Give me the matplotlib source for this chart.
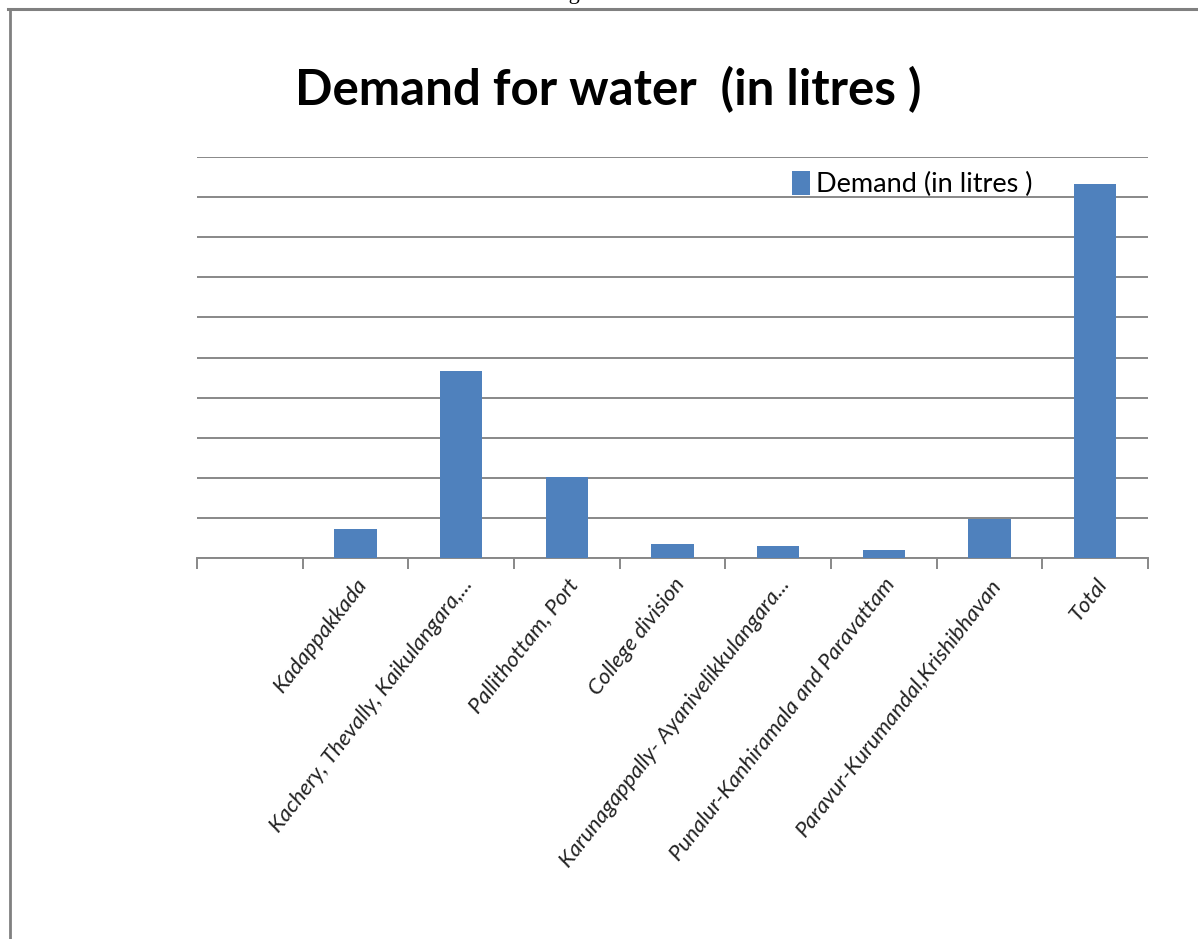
import matplotlib
matplotlib.use("Agg")
import matplotlib.pyplot as plt
from matplotlib.lines import Line2D
import numpy as np

# ---- data (grid units, 1 unit = one gridline step) ----
categories = ["", "Kadappakkada", "Kachery, Thevally, Kaikulangara,...",
              "Pallithottam, Port", "College division",
              "Karunagappally- Ayanivelikkulangara...",
              "Punalur-Kanhiramala and Paravattam",
              "Paravur-Kurumandal,Krishibhavan", "Total"]
demand = [0, 0.72, 4.66, 2.02, 0.35, 0.30, 0.20, 0.97, 9.33]
series_name = "Demand (in litres )"
title = "Demand for water  (in litres )"

W, H = 1198, 939
fig = plt.figure(figsize=(W / 100, H / 100), dpi=100)

# axes placed in pixel terms
left, right, bottom, top = 197, 1148, 558, 157
ax = fig.add_axes([left / W, 1 - bottom / H, (right - left) / W, (bottom - top) / H])

grey = "#888888"
blue = "#4F81BD"

x = np.arange(len(categories))
ax.bar(x, demand, width=0.4, color=blue, label=series_name, zorder=3)

ax.set_xlim(-0.5, len(categories) - 0.5)
ax.set_ylim(0, 10)
ax.set_yticks(np.arange(0, 11, 1))
ax.yaxis.grid(True, color=grey, linewidth=1.4, zorder=0)
ax.tick_params(axis="y", length=0, labelleft=False)

ax.set_xticks(x)
ax.set_xticklabels(categories, rotation=52, ha="right", rotation_mode="anchor",
                   fontsize=16, fontstyle="italic", family="Lato", color="#222222")
ax.tick_params(axis="x", which="major", length=0, pad=12)
ax.set_xticks(np.arange(-0.5, len(categories), 1), minor=True)
ax.tick_params(axis="x", which="minor", length=8, width=1.4, color=grey, direction="out")

for s in ["left", "right", "top"]:
    ax.spines[s].set_visible(False)
ax.spines["bottom"].set_color(grey)
ax.spines["bottom"].set_linewidth(1.4)

# title
fig.text(608 / W, 1 - 90 / H, title, ha="center", va="center",
         fontsize=35.5, fontweight="bold", family="Lato")

# legend
fig.legend(loc="center left", bbox_to_anchor=(792 / W, 1 - 184 / H), frameon=False,
           prop={"family": "Lato", "size": 19.5}, handlelength=0.65, handleheight=1.0,
           handletextpad=0.25, borderpad=0, borderaxespad=0)

# page frame and the clipped caption above it
fig.add_artist(Line2D([8 / W, 1], [1 - 8.5 / H, 1 - 8.5 / H], color="#808080", lw=2.2))
fig.add_artist(Line2D([9.5 / W, 9.5 / W], [0, 1 - 8.5 / H], color="#808080", lw=2.0))
fig.text(550 / W, 1 + 1 / H, "Figure 1", ha="left", va="baseline",
         fontsize=16, family="Liberation Serif")

fig.savefig("out.png", dpi=100)
